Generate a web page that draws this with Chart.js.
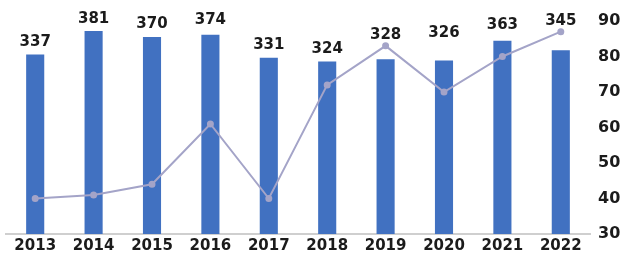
<!DOCTYPE html>
<html lang="en">
<head>
    <meta charset="UTF-8">
    <title>Bars and line 2013-2022</title>
    <style>
        body {
            margin: 0;
            padding: 0;
            background: #fff;
        }
        .chart-box {
            width: 624px;
            height: 258px;
        }
    </style>
</head>
<body>
    <div class="chart-box">
        <canvas id="mainChart"></canvas>
    </div>

    <script src="https://cdn.jsdelivr.net/npm/chart.js@4"></script>
    <script>
        // data
        const years = ['2013', '2014', '2015', '2016', '2017', '2018', '2019', '2020', '2021', '2022'];
        const barValues = [337, 381, 370, 374, 331, 324, 328, 326, 363, 345];
        const lineValues = [40, 41, 44, 61, 40, 72, 83, 70, 80, 87];
        const rightTicks = [30, 40, 50, 60, 70, 80, 90];

        const labelFont = 'bold 15px "DejaVu Sans", sans-serif';

        // draws the number above each bar
        const barLabels = {
            id: 'barLabels',
            afterDatasetsDraw(chart, args, opts) {
                const ctx = chart.ctx;
                const meta = chart.getDatasetMeta(1);
                ctx.save();
                ctx.font = labelFont;
                ctx.fillStyle = '#1b1b1b';
                ctx.textAlign = 'center';
                ctx.textBaseline = 'bottom';
                meta.data.forEach((bar, i) => {
                    const lift = opts.lift[i] || 0;
                    ctx.fillText(String(barValues[i]), bar.x, bar.y - 5 - lift);
                });
                ctx.restore();
            }
        };

        const ctx = document.getElementById('mainChart').getContext('2d');
        new Chart(ctx, {
            data: {
                labels: years,
                datasets: [
                    {
                        type: 'line',
                        data: lineValues,
                        yAxisID: 'y1',
                        borderColor: '#a4a4c8',
                        backgroundColor: '#a4a4c8',
                        borderWidth: 2,
                        pointRadius: 2.5,
                        pointHoverRadius: 2.5,
                        tension: 0,
                        order: 1
                    },
                    {
                        type: 'bar',
                        data: barValues,
                        yAxisID: 'y',
                        backgroundColor: '#4171c1',
                        categoryPercentage: 1,
                        barPercentage: 0.31,
                        order: 2
                    }
                ]
            },
            options: {
                responsive: true,
                maintainAspectRatio: false,
                animation: false,
                layout: {
                    padding: { top: 21, left: 6, right: 0, bottom: 0 }
                },
                plugins: {
                    legend: { display: false },
                    tooltip: { enabled: false },
                    barLabels: { lift: [0, 0, 0, 2, 0, 0, 12, 15, 3, 17] }
                },
                scales: {
                    x: {
                        grid: { display: false, drawTicks: false },
                        border: { display: true, color: '#cfcfcf', width: 2 },
                        ticks: {
                            color: '#1b1b1b',
                            font: { family: '"DejaVu Sans", sans-serif', size: 15, weight: 'bold' },
                            padding: 3,
                            maxRotation: 0
                        },
                        afterFit(axis) {
                            axis.height = 24;
                        }
                    },
                    y: {
                        display: false,
                        min: 0,
                        max: 400
                    },
                    y1: {
                        position: 'right',
                        min: 30,
                        max: 90,
                        grid: { display: false, drawTicks: false },
                        border: { display: false },
                        afterBuildTicks(axis) {
                            axis.ticks = rightTicks.map(v => ({ value: v }));
                        },
                        ticks: {
                            color: '#1b1b1b',
                            font: { family: '"DejaVu Sans", sans-serif', size: 16, weight: 'bold' },
                            padding: 8
                        },
                        afterFit(axis) {
                            axis.width = 34;
                        }
                    }
                }
            },
            plugins: [barLabels]
        });
    </script>
</body>
</html>
